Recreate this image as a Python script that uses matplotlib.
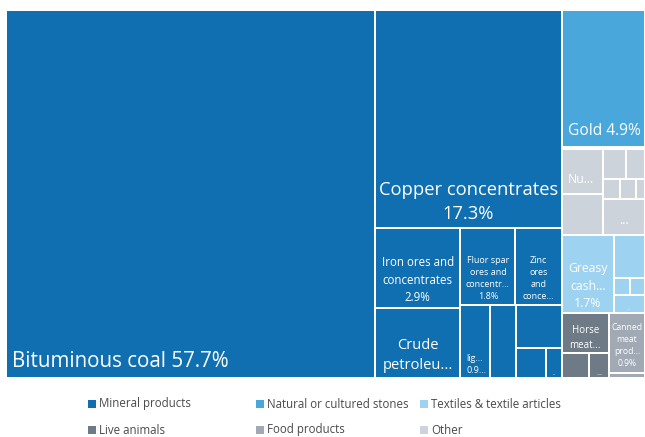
import matplotlib.pyplot as plt
from matplotlib.patches import Rectangle

plt.rcParams['font.family'] = ['Open Sans', 'DejaVu Sans']

# sections shown in the legend and their colours
sections = ['Mineral products', 'Natural or cultured stones', 'Textiles & textile articles',
            'Live animals', 'Food products', 'Other']
section_colors = ['#106fb0', '#49a7db', '#9ed2f1', '#6e7a86', '#a1aab4', '#ccd3db']

# share of total exports (%) per product, one list per section
mineral = [57.7, 17.3, 2.9, 2.55, 1.8, 1.52, 0.9, 0.83, 0.82, 0.38, 0.2]
stones = [4.86, 0.06]
textiles = [1.72, 0.57, 0.12, 0.11, 0.24]
animals = [0.8, 0.3, 0.21]
food = [0.92, 0.08]
other = [0.79, 0.7, 0.3, 0.25, 0.15, 0.13, 0.08, 0.64]

# tile labels ('' = none); {:.1f} gets the product's share
mineral_labels = ['Bituminous coal {:.1f}%', 'Copper concentrates\n{:.1f}%',
                  'Iron ores and\nconcentrates\n{:.1f}%', 'Crude\npetroleu...',
                  'Fluor spar\nores and\nconcentr...\n{:.1f}%', 'Zinc\nores\nand\nconce...',
                  'lig...\n{:.1f}...', '', '', '', '..']
stones_labels = ['Gold {:.1f}%', '']
textiles_labels = ['Greasy\ncash...\n{:.1f}%', '', '', '', '..']
animals_labels = ['Horse\nmeat...', '', '...']
food_labels = ['Canned\nmeat\nprod...\n{:.1f}%', '']
other_labels = ['Nu...', '', '', '', '', '', '', '...']

# how products are grouped into strips inside each section
mineral_tree = [0, [1, [[2, 3], [[4, 5], [6, 7, [8, [9, 10]]]]]]]
stones_tree = [0, 1]
textiles_tree = [0, [1, [[2, 3], 4]]]
animals_tree = [0, [1, 2]]
food_tree = [0, 1]
other_tree = [[0, 1], [[2, 3], [4, 5, 6], 7]]
# sections: mineral on the left, the rest stacked on the right
section_tree = [0, [1, 5, 2, [3, 4]]]

section_values = [mineral, stones, textiles, animals, food, other]
section_labels = [mineral_labels, stones_labels, textiles_labels, animals_labels, food_labels, other_labels]
section_trees = [mineral_tree, stones_tree, textiles_tree, animals_tree, food_tree, other_tree]

# label style per (section, product): alignment, font size, gap below last baseline
label_style = {
    (0, 0): ('left', 14.8, 11), (0, 1): ('center', 13.2, 9), (0, 2): ('center', 8.3, 7),
    (0, 3): ('center', 10.5, 9), (0, 4): ('center', 6.5, 6), (0, 5): ('center', 6.5, 6),
    (0, 6): ('left', 6.5, 5), (0, 10): ('center', 4, 3),
    (1, 0): ('left', 11.2, 12),
    (2, 0): ('center', 8.8, 6), (2, 4): ('center', 4, 3),
    (3, 0): ('center', 7, 5), (3, 2): ('center', 5.5, 3),
    (4, 0): ('center', 6.2, 7),
    (5, 0): ('left', 8.8, 11), (5, 7): ('center', 9, 11),
}


def tree_size(node, sizes):
    if isinstance(node, list):
        return sum(tree_size(n, sizes) for n in node)
    return sizes[node]


def slice_layout(node, sizes, x, y, w, h, out):
    # split along the longer side, recursing into nested strips
    if not isinstance(node, list):
        out[node] = (x, y, w, h)
        return
    total = tree_size(node, sizes)
    wide = w >= 0.9 * h
    for child in node:
        frac = tree_size(child, sizes) / total
        if wide:
            slice_layout(child, sizes, x, y, w * frac, h, out)
            x += w * frac
        else:
            slice_layout(child, sizes, x, y, w, h * frac, out)
            y += h * frac


fig = plt.figure(figsize=(6.45, 4.37), dpi=100)
ax = fig.add_axes([0, 0, 1, 1])
ax.set_xlim(0, 645)
ax.set_ylim(437, 0)
ax.axis('off')

section_rects = {}
slice_layout(section_tree, [sum(v) for v in section_values], 6, 10, 639, 368, section_rects)

for s, (sx, sy, sw, sh) in section_rects.items():
    rects = {}
    slice_layout(section_trees[s], section_values[s], sx, sy, sw, sh, rects)
    for i, (x, y, w, h) in rects.items():
        ax.add_patch(Rectangle((x + 1, y + 1), w - 2, h - 2, facecolor=section_colors[s], edgecolor='none'))
        text = section_labels[s][i]
        if not text:
            continue
        ha, size, pad = label_style[(s, i)]
        tx = x + 6 if ha == 'left' else x + w / 2
        ax.text(tx, y + h - pad, text.format(section_values[s][i]), ha=ha, va='baseline',
                fontsize=size, color='white', linespacing=1.42, multialignment=ha)

# legend laid out on a fixed grid
for k, name in enumerate(sections):
    lx = [88, 256, 420][k % 3]
    ly = [404, 430][k // 3]
    ax.add_patch(Rectangle((lx, ly - 4), 8, 8, facecolor=section_colors[k], edgecolor='none'))
    ax.text(lx + 11, ly, name, ha='left', va='center', fontsize=8.3, color='#4a4a4a')

fig.savefig('out.png', dpi=100, facecolor='white')
